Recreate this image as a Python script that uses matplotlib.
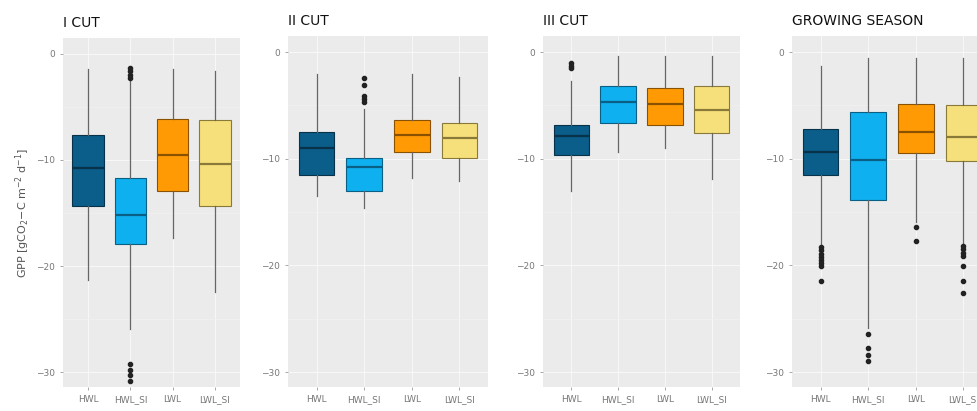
import matplotlib.pyplot as plt
import numpy as np

# groups and panels
groups = ["HWL", "HWL_SI", "LWL", "LWL_SI"]
panels = ["I CUT", "II CUT", "III CUT", "GROWING SEASON"]

# box stats: [whisker low, q1, median, q3, whisker high]
cut1_stats = [[-21.3, -14.3, -10.8, -7.6, -1.4],
              [-25.9, -17.9, -15.2, -11.7, -2.6],
              [-17.4, -12.9, -9.5, -6.1, -1.4],
              [-22.4, -14.3, -10.4, -6.2, -1.6]]
cut1_out = [[], [-1.3, -1.6, -2.0, -2.3, -29.2, -29.8, -30.3, -30.8], [], []]

cut2_stats = [[-13.5, -11.5, -9.0, -7.5, -2.1],
              [-14.6, -13.0, -10.8, -9.9, -5.3],
              [-11.8, -9.4, -7.8, -6.4, -2.1],
              [-12.1, -9.9, -8.1, -6.7, -2.3]]
cut2_out = [[], [-2.4, -3.1, -4.1, -4.4, -4.7], [], []]

cut3_stats = [[-13.0, -9.7, -7.9, -6.8, -2.7],
              [-9.4, -6.7, -4.7, -3.2, -0.4],
              [-9.0, -6.8, -4.9, -3.4, -0.4],
              [-11.9, -7.6, -5.4, -3.2, -0.4]]
cut3_out = [[-1.0, -1.3, -1.5], [], [], []]

season_stats = [[-18.0, -11.5, -9.4, -7.2, -1.3],
                [-25.9, -13.9, -10.1, -5.6, -0.6],
                [-15.9, -9.5, -7.5, -4.9, -0.6],
                [-17.9, -10.2, -8.0, -5.0, -0.6]]
season_out = [[-18.3, -18.6, -18.9, -19.2, -19.5, -19.8, -20.1, -21.5],
              [-26.4, -27.7, -28.4, -29.0],
              [-16.4, -17.7],
              [-18.2, -18.5, -18.8, -19.1, -20.1, -21.5, -22.6]]

all_stats = [cut1_stats, cut2_stats, cut3_stats, season_stats]
all_out = [cut1_out, cut2_out, cut3_out, season_out]

fills = ["#0b5d8a", "#0fb0f0", "#ff9a05", "#f6e07c"]
edges = ["#08324a", "#0a5f85", "#8a5200", "#8a7a3a"]

W, H = 977, 411
fig = plt.figure(figsize=(W / 100, H / 100), dpi=100)

# axes boxes in pixels: left, right, top, bottom
boxes = [(63, 240, 38, 387), (288, 488, 36, 387), (543, 740, 36, 387), (792, 992, 36, 387)]

for k in range(4):
    l, r, t, b = boxes[k]
    ax = fig.add_axes([l / W, 1 - b / H, (r - l) / W, (b - t) / H])
    ax.set_facecolor("#ebebeb")
    stats = []
    for i, g in enumerate(groups):
        lo, q1, med, q3, hi = all_stats[k][i]
        stats.append(dict(label=g, whislo=lo, q1=q1, med=med, q3=q3, whishi=hi,
                          fliers=all_out[k][i]))
    bp = ax.bxp(stats, positions=np.arange(1, 5), widths=0.75, patch_artist=True,
                showcaps=False,
                whiskerprops=dict(color="#666666", lw=0.9),
                flierprops=dict(marker="o", markersize=3, markerfacecolor="#222222",
                                markeredgecolor="#222222"),
                medianprops=dict(lw=1.6))
    for i, patch in enumerate(bp["boxes"]):
        patch.set_facecolor(fills[i])
        patch.set_edgecolor(edges[i])
        patch.set_linewidth(0.8)
        bp["medians"][i].set_color(edges[i])
    ax.set_xlim(0.4, 4.6)
    ax.set_ylim(-31.4, 1.5)
    ax.set_yticks([0, -10, -20, -30])
    ax.set_yticks([-5, -15, -25], minor=True)
    ax.grid(True, which="major", color="#f7f7f7", lw=0.8)
    ax.grid(True, which="minor", axis="y", color="#f3f3f3", lw=0.4)
    ax.set_axisbelow(True)
    for s in ax.spines.values():
        s.set_visible(False)
    ax.tick_params(axis="both", which="major", colors="#999999", labelcolor="#777777",
                   labelsize=6.5, length=2.5, width=0.6)
    ax.tick_params(axis="y", which="minor", length=0)
    ax.set_title(panels[k], loc="left", fontsize=10, color="#111111", pad=8, x=0.0)
    if k == 0:
        ax.set_ylabel("GPP [gCO$_2$$-$C m$^{-2}$ d$^{-1}$]", fontsize=8, color="#555555", labelpad=3)

plt.savefig("out.png", dpi=100)
